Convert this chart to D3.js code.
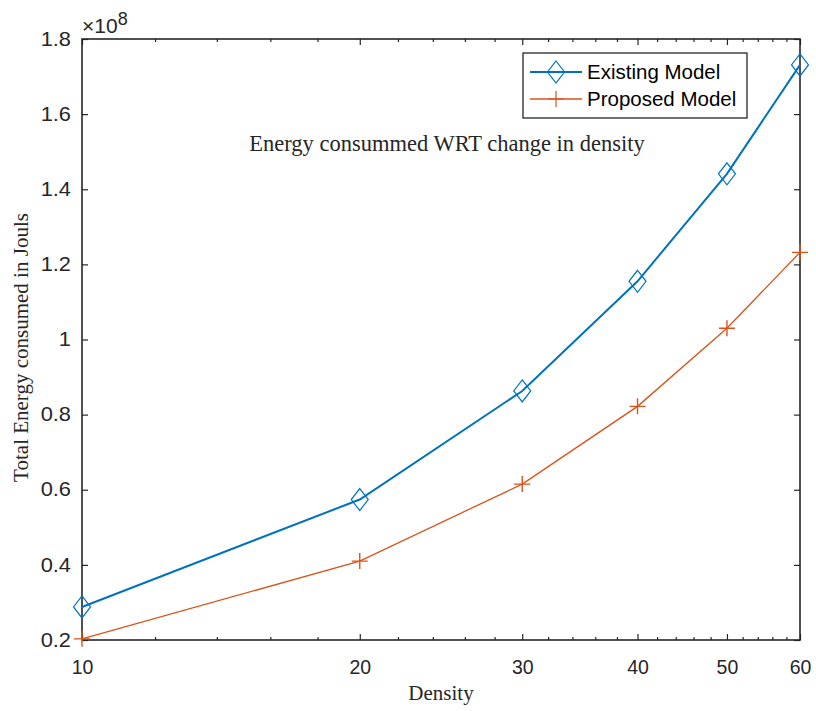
<!DOCTYPE html>
<html>
<head>
<meta charset="utf-8">
<script src="https://cdn.jsdelivr.net/npm/d3@7"></script>
<style>
  body { margin: 0; background: #fff; }
  svg { display: block; }
</style>
</head>
<body>
<svg id="chart" width="816" height="711"></svg>
<script>
const densities = [10, 20, 30, 40, 50, 60];
const existingModel = [0.288, 0.574, 0.863, 1.155, 1.441, 1.731];
const proposedModel = [0.203, 0.410, 0.615, 0.822, 1.030, 1.232];
const seriesNames = ["Existing Model", "Proposed Model"];
const xTickValues = [10, 20, 30, 40, 50, 60];
const xMinorTicks = [12, 14, 16, 18, 22, 24, 26, 28, 32, 34, 36, 38, 42, 44, 46, 48, 52, 54, 56, 58];
const yTickValues = [0.2, 0.4, 0.6, 0.8, 1.0, 1.2, 1.4, 1.6, 1.8];
const titleText = "Energy consummed WRT change in density";
const xLabelText = "Density";
const yLabelText = "Total Energy consumed in Jouls";
const exponentText = "8";

const svg = d3.select("#chart");
const L = 82, R = 800, T = 39, B = 640;
const axisColor = "#262626";
const blue = "#0072BD", orange = "#D95319";
const sans = "'Liberation Sans', Arial, sans-serif";
const serif = "'Liberation Serif', 'Times New Roman', serif";

const x = d3.scaleLog().domain([10, 60]).range([L, R]);
const y = d3.scaleLinear().domain([0.2, 1.8]).range([B, T]);

const fmtY = v => d3.format("~g")(+v.toFixed(1));

const g = svg.append("g");
const bottomAxis = d3.axisBottom(x).tickValues(xTickValues).tickFormat(d => d).tickSizeInner(-6).tickSizeOuter(0).tickPadding(20);
const gb = g.append("g").attr("transform", `translate(0,${B})`).call(bottomAxis);
const leftAxis = d3.axisLeft(y).tickValues(yTickValues).tickFormat(fmtY).tickSizeInner(-6).tickSizeOuter(0).tickPadding(5);
const gl = g.append("g").attr("transform", `translate(${L},0)`).call(leftAxis);
const topAxis = d3.axisTop(x).tickValues(xTickValues).tickFormat("").tickSizeInner(-6).tickSizeOuter(0);
const gt = g.append("g").attr("transform", `translate(0,${T})`).call(topAxis);
const rightAxis = d3.axisRight(y).tickValues(yTickValues).tickFormat("").tickSizeInner(-6).tickSizeOuter(0);
const gr = g.append("g").attr("transform", `translate(${R},0)`).call(rightAxis);
const minorB = d3.axisBottom(x).tickValues(xMinorTicks).tickFormat("").tickSizeInner(-3).tickSizeOuter(0);
const gmb = g.append("g").attr("transform", `translate(0,${B})`).call(minorB);
const minorT = d3.axisTop(x).tickValues(xMinorTicks).tickFormat("").tickSizeInner(-3).tickSizeOuter(0);
const gmt = g.append("g").attr("transform", `translate(0,${T})`).call(minorT);

[gb, gl, gt, gr, gmb, gmt].forEach(a => {
  a.select(".domain").remove();
  a.selectAll("line").attr("stroke", axisColor).attr("stroke-width", 1.2);
  a.selectAll("text").attr("fill", axisColor).style("font-family", sans).style("font-size", "19.5px");
});
gl.selectAll(".tick text").attr("x", -11 / 1.12).attr("transform", "scale(1.12,1)");

// box
g.append("rect").attr("x", L).attr("y", T).attr("width", R - L).attr("height", B - T)
  .attr("fill", "none").attr("stroke", axisColor).attr("stroke-width", 1.6);

// exponent
const ex = svg.append("text").attr("x", L).attr("y", 33).attr("fill", axisColor)
  .style("font-family", sans).style("font-size", "21px");
ex.append("tspan").text("\u00D710");
ex.append("tspan").attr("dy", -8).style("font-size", "18px").text(exponentText);

// lines
const line = d3.line().x(d => x(d[0])).y(d => y(d[1]));
const dataE = densities.map((d, i) => [d, existingModel[i]]);
const dataP = densities.map((d, i) => [d, proposedModel[i]]);

svg.append("path").datum(dataE).attr("d", line).attr("fill", "none").attr("stroke", blue).attr("stroke-width", 2);
svg.append("path").datum(dataP).attr("d", line).attr("fill", "none").attr("stroke", orange).attr("stroke-width", 1.3);

const diamond = (cx, cy) => `M${cx},${cy - 11}L${cx + 8.5},${cy}L${cx},${cy + 11}L${cx - 8.5},${cy}Z`;
svg.append("g").selectAll("path").data(dataE).join("path")
  .attr("d", d => diamond(x(d[0]), y(d[1])))
  .attr("fill", "none").attr("stroke", blue).attr("stroke-width", 1.2);

const plus = (cx, cy) => `M${cx - 8},${cy}H${cx + 8}M${cx},${cy - 8}V${cy + 8}`;
svg.append("g").selectAll("path").data(dataP).join("path")
  .attr("d", d => plus(x(d[0]), y(d[1])))
  .attr("fill", "none").attr("stroke", orange).attr("stroke-width", 1.4);

// title in axes
svg.append("text").attr("x", 447).attr("y", 151).attr("text-anchor", "middle").attr("fill", "#262626")
  .style("font-family", serif).style("font-size", "22.5px").text(titleText);

// labels
svg.append("text").attr("x", (L + R) / 2).attr("y", 700).attr("text-anchor", "middle").attr("fill", "#262626")
  .style("font-family", serif).style("font-size", "21px").text(xLabelText);
svg.append("text").attr("transform", `translate(28,${(T + B) / 2 + 8}) rotate(-90)`).attr("text-anchor", "middle").attr("fill", "#262626")
  .style("font-family", serif).style("font-size", "21px").text(yLabelText);

// legend
const lg = svg.append("g");
lg.append("rect").attr("x", 523).attr("y", 53).attr("width", 224).attr("height", 65)
  .attr("fill", "#fff").attr("stroke", axisColor).attr("stroke-width", 1.3);
const legendRows = [
  { name: seriesNames[0], color: blue, w: 2, y: 72, marker: diamond },
  { name: seriesNames[1], color: orange, w: 1.3, y: 99, marker: plus }
];
legendRows.forEach(r => {
  lg.append("line").attr("x1", 530).attr("x2", 582).attr("y1", r.y).attr("y2", r.y).attr("stroke", r.color).attr("stroke-width", r.w);
  lg.append("path").attr("d", r.marker(556, r.y)).attr("fill", "none").attr("stroke", r.color).attr("stroke-width", 1.2);
  lg.append("text").attr("x", 587).attr("y", r.y + 7).attr("fill", "#000")
    .style("font-family", sans).style("font-size", "20.5px").text(r.name);
});
</script>
</body>
</html>
